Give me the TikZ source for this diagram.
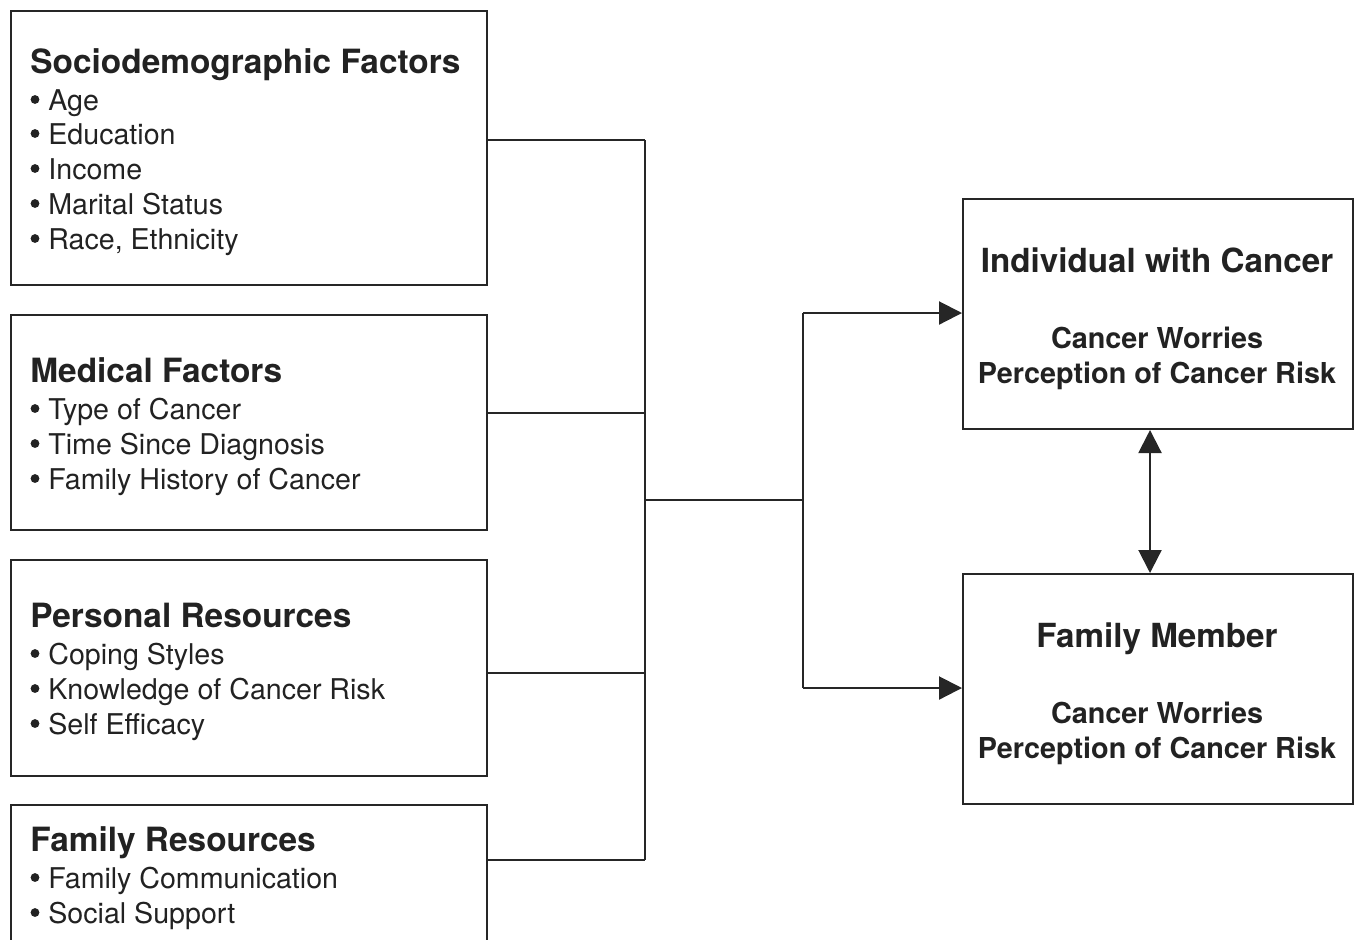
\documentclass[tikz,border=0pt]{standalone}
\usepackage{fontspec}
\setmainfont{TeX Gyre Heros}
\usetikzlibrary{arrows.meta}
\definecolor{ink}{HTML}{222222}
\definecolor{linec}{HTML}{262626}
\tikzset{
  box/.style={draw=linec, line width=1pt, rectangle, inner sep=0pt, anchor=north west},
  ttl/.style={font=\fontsize{16.7}{19}\selectfont\bfseries, text=ink, anchor=base west, inner sep=0pt},
  itm/.style={font=\fontsize{14.3}{17}\selectfont, text=ink, anchor=base west, inner sep=0pt},
  rttl/.style={font=\fontsize{16.6}{19}\selectfont\bfseries, text=ink, anchor=base, inner sep=0pt},
  rtxt/.style={font=\fontsize{14.4}{17}\selectfont\bfseries, text=ink, anchor=base, inner sep=0pt},
  conn/.style={draw=linec, line width=1.05pt},
  arr/.style={conn, -{Triangle[length=11.5pt,width=11.5pt]}},
  darr/.style={conn, {Triangle[length=11.5pt,width=11.5pt]}-{Triangle[length=11.5pt,width=11.5pt]}},
  dot/.style={fill=ink}
}
\begin{document}
\begin{tikzpicture}[x=0.5pt,y=-0.5pt]
\useasboundingbox (0,0) rectangle (1358,939);
\clip (0,0) rectangle (1358,939);
% left boxes
\node[box, minimum width=238pt, minimum height=137pt] (b1) at (10,10) {};
\node[box, minimum width=238pt, minimum height=107.5pt] (b2) at (10,314) {};
\node[box, minimum width=238pt, minimum height=108pt] (b3) at (10,559) {};
\node[box, minimum width=238pt, minimum height=75pt] (b4) at (10,804) {};
% right boxes
\node[box, minimum width=195pt, minimum height=115pt] (r1) at (962,198) {};
\node[box, minimum width=195pt, minimum height=115pt] (r2) at (962,573) {};
% bullets
\foreach \yy in {110,144,179,214,249,419,454,489,664,699,734,888,923}
  \fill[dot] (35,\yy-10.5) circle (2.2pt);
% texts box 1
\node[ttl] (t1) at (30,73) {Sociodemographic Factors};
\node[itm] (t1a) at (48,110) {Age};
\node[itm] (t1b) at (48,144) {Education};
\node[itm] (t1c) at (48,179) {Income};
\node[itm] (t1d) at (48,214) {Marital Status};
\node[itm] (t1e) at (48,249) {Race, Ethnicity};
% box 2
\node[ttl] (t2) at (30,382) {Medical Factors};
\node[itm] (t2a) at (48,419) {Type of Cancer};
\node[itm] (t2b) at (48,454) {Time Since Diagnosis};
\node[itm] (t2c) at (48,489) {Family History of Cancer};
% box 3
\node[ttl] (t3) at (30,627) {Personal Resources};
\node[itm] (t3a) at (48,664) {Coping Styles};
\node[itm] (t3b) at (48,699) {Knowledge of Cancer Risk};
\node[itm] (t3c) at (48,734) {Self Efficacy};
% box 4
\node[ttl] (t4) at (30,851) {Family Resources};
\node[itm] (t4a) at (48,888) {Family Communication};
\node[itm] (t4b) at (48,923) {Social Support};
% right texts
\node[rttl] (u1) at (1157,272) {Individual with Cancer};
\node[rtxt] (u2) at (1157,348) {Cancer Worries};
\node[rtxt] (u3) at (1157,383) {Perception of Cancer Risk};
\node[rttl] (v1) at (1157,647) {Family Member};
\node[rtxt] (v2) at (1157,723) {Cancer Worries};
\node[rtxt] (v3) at (1157,758) {Perception of Cancer Risk};
% junction coordinates
\coordinate (j1) at (645,140);
\coordinate (j2) at (645,413);
\coordinate (j3) at (645,673);
\coordinate (j4) at (645,860);
\coordinate (jm) at (645,500);
\coordinate (km) at (803,500);
\coordinate (k1) at (803,313);
\coordinate (k2) at (803,688);
\coordinate (dx) at (1150,500);
% connectors
\draw[conn] (b1.east |- j1) -- (j1);
\draw[conn] (b2.east |- j2) -- (j2);
\draw[conn] (b3.east |- j3) -- (j3);
\draw[conn] (b4.east |- j4) -- (j4);
\draw[conn] (j1) -- (j4);
\draw[conn] (jm) -- (km);
\draw[conn] (k1) -- (k2);
\draw[arr] (k1) -- (r1.west |- k1);
\draw[arr] (k2) -- (r2.west |- k2);
\draw[darr] (dx |- r1.south) -- (dx |- r2.north);
\end{tikzpicture}
\end{document}
